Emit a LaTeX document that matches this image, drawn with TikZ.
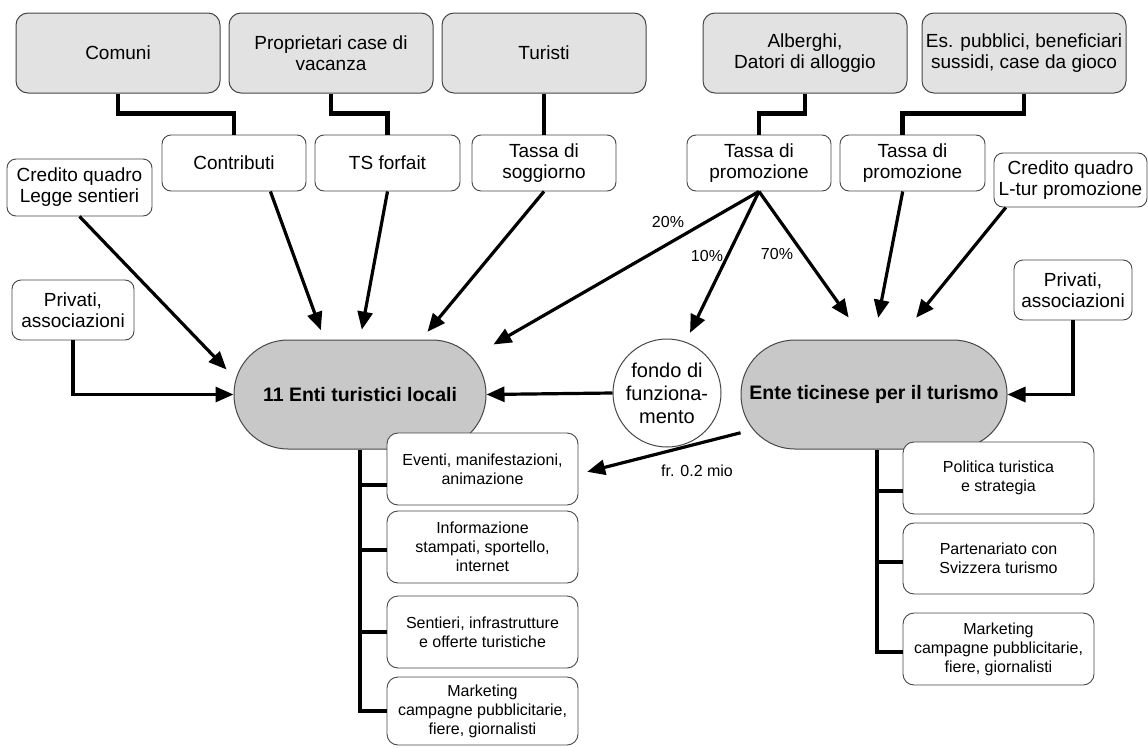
\documentclass[tikz,border=0pt]{standalone}
\usepackage{fontspec}
\setmainfont{Liberation Sans}
\usetikzlibrary{arrows.meta}
\definecolor{boxgray}{RGB}{226,226,226}
\definecolor{entgray}{RGB}{200,200,200}
\definecolor{edgegray}{RGB}{70,70,70}

\begin{document}
\begin{tikzpicture}[x=1pt,y=-1pt,
source/.style={draw=edgegray,fill=boxgray,rounded corners=12pt,line width=1pt,minimum width=204pt,minimum height=80pt,inner sep=0pt,align=center,font=\fontsize{19}{21}\selectfont},
tax/.style={draw=edgegray,fill=white,rounded corners=9pt,line width=0.9pt,minimum width=144pt,minimum height=56pt,inner sep=0pt,align=center,font=\fontsize{19}{21}\selectfont},
task/.style={draw=edgegray,fill=white,rounded corners=11pt,line width=0.9pt,minimum width=191pt,minimum height=72pt,inner sep=0pt,align=center,font=\fontsize{16}{19}\selectfont},
ente/.style={draw=edgegray,fill=entgray,rounded corners=54pt,line width=1pt,minimum height=109pt,inner sep=0pt,font=\bfseries\fontsize{19.5}{22}\selectfont},
link/.style={line width=4.5pt},
flow/.style={line width=3.2pt,-{Triangle[length=18pt,width=15pt]}},
branch/.style={line width=4pt},
pct/.style={inner sep=0pt,font=\fontsize{16}{19}\selectfont}]
\useasboundingbox (0,0) rectangle (1148,747);
\node[source] (comuni) at (118,53) {Comuni};
\node[source] (proprietari) at (331,53) {Proprietari case di\\vacanza};
\node[source] (turisti) at (544,53) {Turisti};
\node[source] (alberghi) at (805,53) {Alberghi,\\Datori di alloggio};
\node[source] (espubblici) at (1024,53) {Es. pubblici, beneficiari\\sussidi, case da gioco};
\node[tax] (contributi) at (234,163) {Contributi};
\node[tax,minimum width=145pt] (tsforfait) at (387.5,163) {TS forfait};
\node[tax] (soggiorno) at (544,163) {Tassa di\\soggiorno};
\node[tax] (promo1) at (759,163) {Tassa di\\promozione};
\node[tax,minimum width=145pt] (promo2) at (912.5,163) {Tassa di\\promozione};
\node[tax,minimum width=145pt,minimum height=57pt] (legge) at (79.5,187.5) {Credito quadro\\Legge sentieri};
\node[tax,minimum width=153pt,minimum height=54pt] (ltur) at (1070.5,180) {Credito quadro\\L-tur promozione};
\node[tax,minimum width=122pt,minimum height=60pt] (privatiL) at (73,310) {Privati,\\associazioni};
\node[tax,minimum width=118pt,minimum height=60pt] (privatiR) at (1073,290) {Privati,\\associazioni};
\node[ente,minimum width=252pt] (enti) at (360,394.5) {11 Enti turistici locali};
\node[ente,minimum width=266pt] (ett) at (874,394.5) {Ente ticinese per il turismo};
\node[circle,draw=edgegray,fill=white,line width=1pt,minimum size=108pt,inner sep=0pt,align=center,font=\fontsize{20}{23}\selectfont] (fondo) at (667,393) {fondo di\\funziona-\\mento};
\node[task] (eventi) at (482.5,469) {Eventi, manifestazioni,\\animazione};
\node[task] (info) at (482.5,547) {Informazione\\stampati, sportello,\\internet};
\node[task] (sentieri) at (482.5,632) {Sentieri, infrastrutture\\e offerte turistiche};
\node[task,minimum height=68pt] (mktL) at (482.5,711) {Marketing\\campagne pubblicitarie,\\fiere, giornalisti};
\node[task] (politica) at (998.5,478) {Politica turistica\\e strategia};
\node[task,minimum height=71pt] (partner) at (998.5,558.5) {Partenariato con\\Svizzera turismo};
\node[task] (mktR) at (998.5,649) {Marketing\\campagne pubblicitarie,\\fiere, giornalisti};
\node[pct] (p20) at (668,222) {20\%};
\node[pct] (p10) at (707,256) {10\%};
\node[pct] (p70) at (777,254) {70\%};
\node[pct] (amount) at (697,471) {fr. 0.2 mio};
\draw[link] (comuni.south) -- ++(0,20) -| (contributi.north);
\draw[link] (proprietari.south) -- ++(0,20) -| (tsforfait.north);
\draw[link] (turisti.south) -- (soggiorno.north);
\draw[link] (alberghi.south) -- ++(0,20) -| (promo1.north);
\draw[link] (espubblici.south) -- ++(0,20) -| (promo2.109);
\draw[flow,shorten >=10pt] (legge.south) -- (enti.172);
\draw[flow,shorten >=10pt] (contributi.-38) -- (enti.123);
\draw[flow,shorten >=10pt] (tsforfait.south) -- (enti.north);
\draw[flow,shorten >=10pt] (soggiorno.south) -- (enti.42);
\draw[flow,shorten >=8pt] (promo1.south) -- (enti.20);
\draw[flow] (privatiL.south) |- (enti.west);
\draw[flow] (fondo.west) -- (enti.east);
\draw[flow,shorten >=10pt] (promo1.south) -- (fondo.70);
\draw[flow,shorten >=27pt] (promo1.south) -- (ett.100);
\draw[flow,shorten >=22pt] (promo2.-109) -- (ett.north);
\draw[flow,shorten >=28pt] (ltur.-157) -- (ett.66);
\draw[flow] (privatiR.south) |- (ett.east);
\draw[flow,shorten >=9pt] (ett.196) -- (eventi.-3);
\draw[branch] (enti.south) |- (mktL.west);
\draw[branch] ([yshift=-16pt]eventi.west) -- ++(-26,0);
\draw[branch] ([yshift=-3pt]info.west) -- ++(-26,0);
\draw[branch] (sentieri.west) -- ++(-26,0);
\draw[branch] ([xshift=3pt]ett.south) |- ([yshift=-3pt]mktR.west);
\draw[branch] ([yshift=-13pt]politica.west) -- ++(-26,0);
\draw[branch] ([yshift=-3pt]partner.west) -- ++(-26,0);
\end{tikzpicture}
\end{document}
